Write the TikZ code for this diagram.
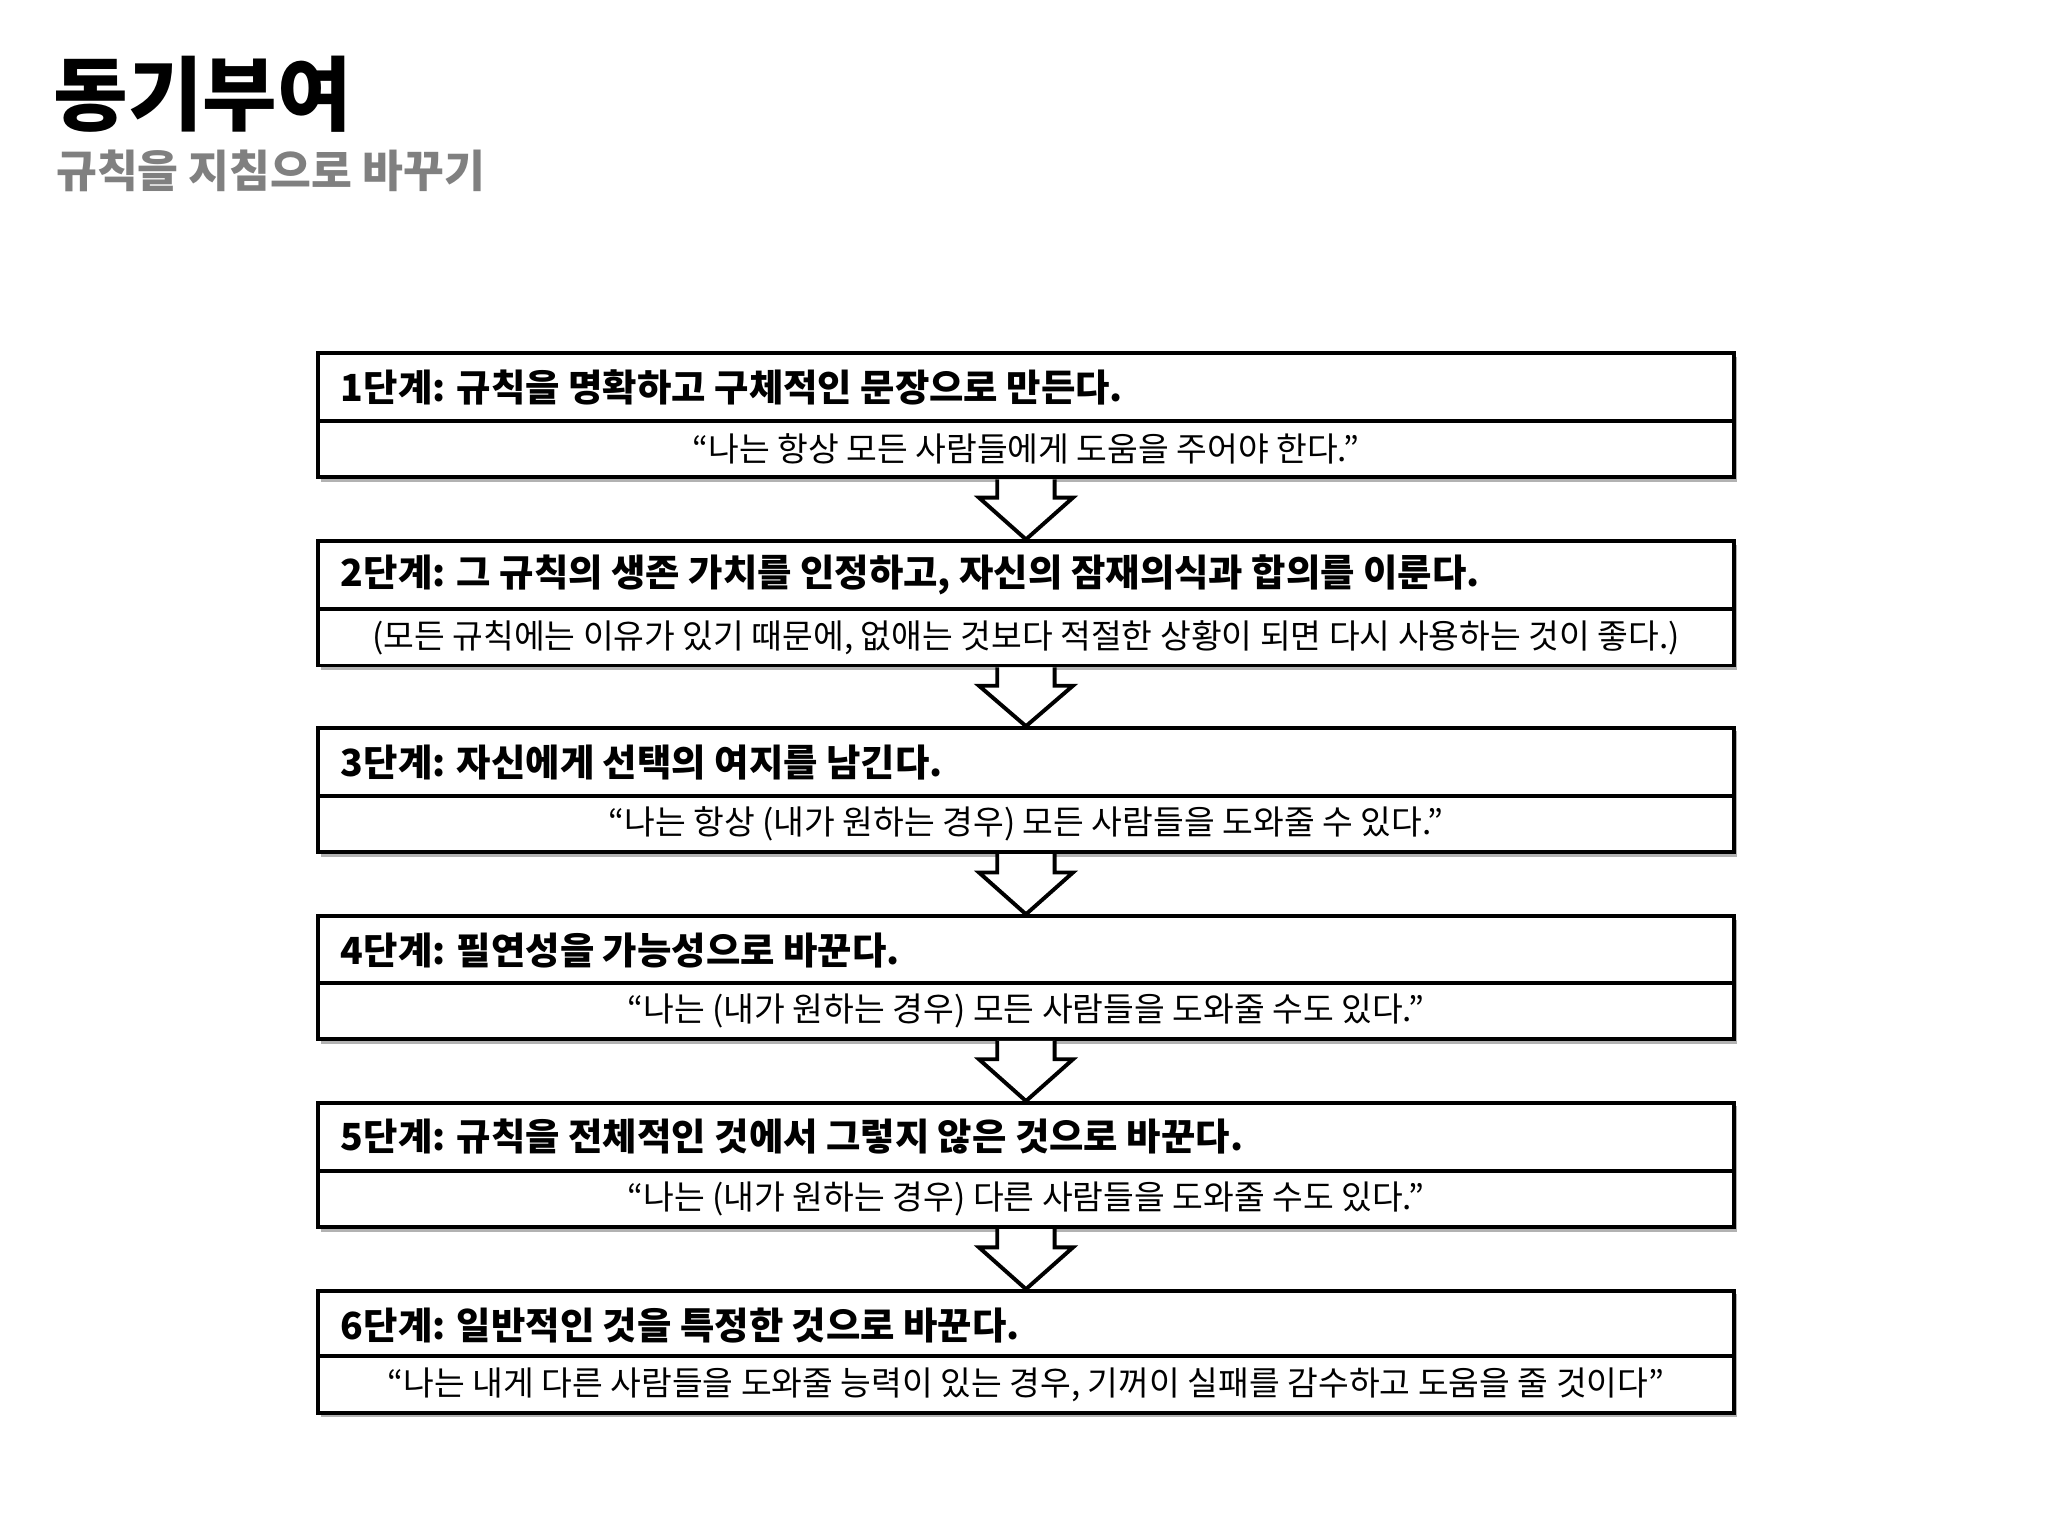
\documentclass[tikz,border=0pt]{standalone}
\usepackage{fontspec}
\setmainfont{Noto Sans CJK KR}
\usetikzlibrary{shadows}
\begin{document}
\begin{tikzpicture}[x=0.5pt,y=-0.5pt,
  headbox/.style={draw,line width=1.5pt,minimum width=542pt,minimum height=26pt,anchor=north west,inner sep=0pt,fill=white},
  subbox/.style={draw,line width=1.5pt,minimum width=542pt,minimum height=21.5pt,anchor=north west,inner sep=0pt,fill=white},
  htext/.style={anchor=west,font=\fontsize{14.3}{16}\selectfont\bfseries},
  stext/.style={font=\fontsize{12.8}{14}\selectfont},
  darr/.style={draw,line width=1.5pt,fill=white,line join=miter}]
\useasboundingbox (0,0) rectangle (1568,1176);
\node[anchor=west,font=\fontsize{31}{34}\selectfont\bfseries] (title) at (34,72) {동기부여};
\node[anchor=west,text=gray,font=\fontsize{17}{19}\selectfont\bfseries] (sub) at (36,131) {규칙을 지침으로 바꾸기};
\foreach \i/\t/\d/\h/\s in {
 1/269/321/{1단계: 규칙을 명확하고 구체적인 문장으로 만든다.}/{“나는 항상 모든 사람들에게 도움을 주어야 한다.”},
 2/413/465/{2단계: 그 규칙의 생존 가치를 인정하고, 자신의 잠재의식과 합의를 이룬다.}/{(모든 규칙에는 이유가 있기 때문에, 없애는 것보다 적절한 상황이 되면 다시 사용하는 것이 좋다.)},
 3/556/608/{3단계: 자신에게 선택의 여지를 남긴다.}/{“나는 항상 (내가 원하는 경우) 모든 사람들을 도와줄 수 있다.”},
 4/700/751/{4단계: 필연성을 가능성으로 바꾼다.}/{“나는 (내가 원하는 경우) 모든 사람들을 도와줄 수도 있다.”},
 5/843/895/{5단계: 규칙을 전체적인 것에서 그렇지 않은 것으로 바꾼다.}/{“나는 (내가 원하는 경우) 다른 사람들을 도와줄 수도 있다.”},
 6/987/1037/{6단계: 일반적인 것을 특정한 것으로 바꾼다.}/{“나는 내게 다른 사람들을 도와줄 능력이 있는 경우, 기꺼이 실패를 감수하고 도움을 줄 것이다”}}
{
  \fill[gray!60] (246,\t+4) rectangle (1330,\d+48);
  \node[headbox] (h\i) at (242,\t) {};
  \node[subbox] (s\i) at (242,\d) {};
  \node[htext] at ([xshift=6pt]h\i.west) {\h};
  \node[stext] at (s\i.center) {\s};
}
\foreach \a/\b in {1/2,2/3,3/4,4/5,5/6}{
  \path (s\a.south) coordinate (top\a) (h\b.north) coordinate (tip\a);
  \draw[darr] ([xshift=-11pt]top\a) -- ([xshift=-11pt,yshift=-7pt]top\a) -- ([xshift=-18pt,yshift=-7pt]top\a) -- (tip\a) -- ([xshift=18pt,yshift=-7pt]top\a) -- ([xshift=11pt,yshift=-7pt]top\a) -- ([xshift=11pt]top\a);
}
\end{tikzpicture}
\end{document}
